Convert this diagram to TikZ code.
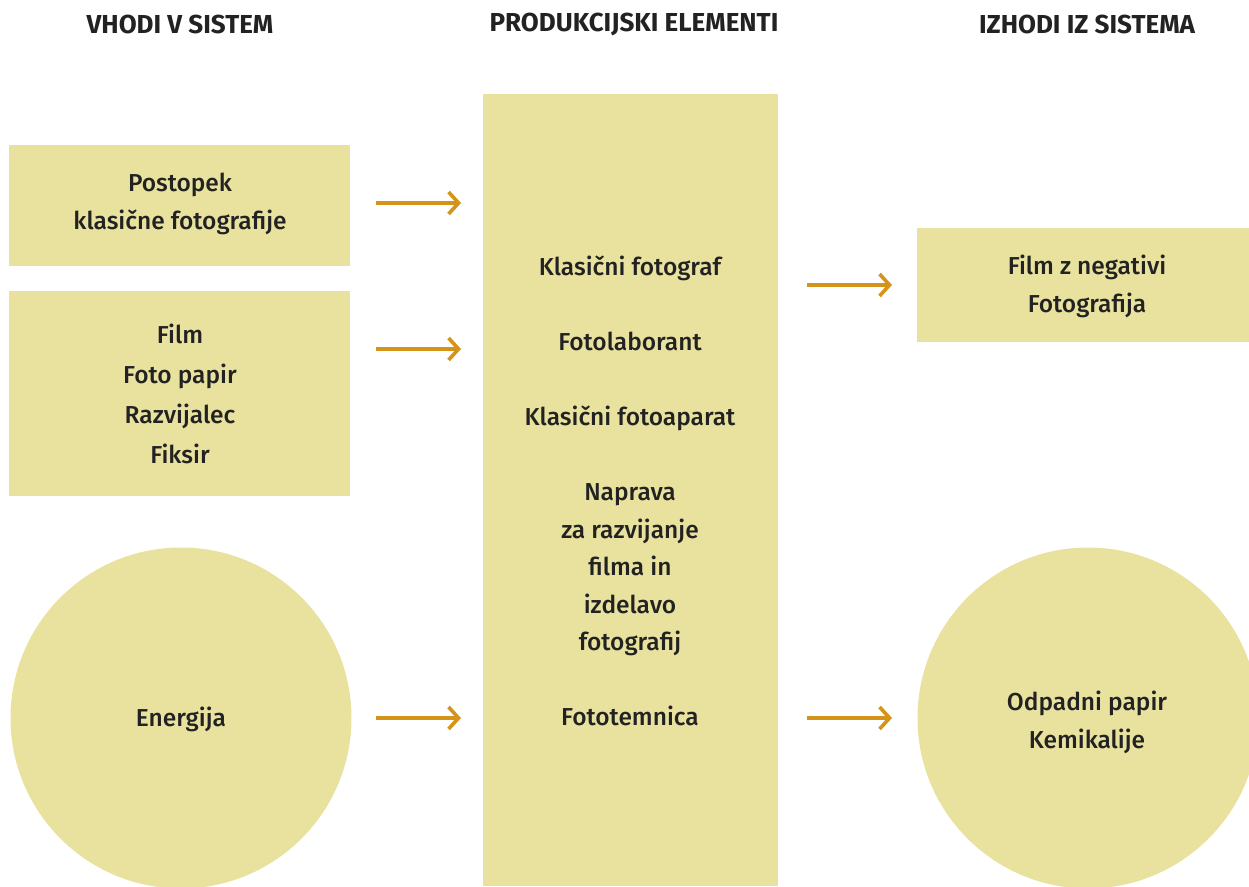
\documentclass[tikz,border=0pt]{standalone}
\usepackage{fontspec}
\setmainfont{Fira Sans}[UprightFont=* Medium, BoldFont=* Bold]
\usetikzlibrary{arrows.meta}
\definecolor{panel}{HTML}{E9E29F}
\definecolor{flow}{HTML}{D4941A}
\definecolor{ink}{HTML}{222222}
\tikzset{
  panel/.style={fill=panel, draw=none, inner sep=0pt},
  label/.style={text=ink, align=center, font=\fontsize{24.5}{38}\selectfont},
  head/.style={text=ink, font=\fontsize{26}{28}\selectfont\bfseries},
  flowarrow/.style={draw=flow, line width=3.6pt, -{Straight Barb[length=10pt,width=22pt,line width=3.6pt]}}
}
\begin{document}
\begin{tikzpicture}[x=1pt,y=-1pt]
\useasboundingbox (0,0) rectangle (1249,886);
\clip (0,0) rectangle (1249,886);

% column headings
\node[head] (h1) at (180,24) {VHODI V SISTEM};
\node[head] (h2) at (634,24) {PRODUKCIJSKI ELEMENTI};
\node[head] (h3) at (1087,24) {IZHODI IZ SISTEMA};

% inputs
\node[panel, minimum width=341pt, minimum height=121pt] (in1) at (179.5,205.5) {};
\node[label] at (180,204) {Postopek\\klasične fotografije};
\node[panel, minimum width=341pt, minimum height=205pt] (in2) at (179.5,393.5) {};
\node[label, font=\fontsize{24.5}{40}\selectfont] at (180,394) {Film\\Foto papir\\Razvijalec\\Fiksir};
\node[panel, circle, minimum size=341pt] (in3) at (181,718) {};
\node[label] at (181,719) {Energija};

% production elements
\node[panel, minimum width=295pt, minimum height=792pt] (prod) at (630.5,490) {};
\node[label, font=\fontsize{24.5}{37.5}\selectfont] at (630,491)
  {Klasični fotograf\\[37.5pt]Fotolaborant\\[37.5pt]Klasični fotoaparat\\[37.5pt]Naprava\\za razvijanje\\filma in\\izdelavo\\fotografij\\[37.5pt]Fototemnica};

% outputs
\node[panel, minimum width=332pt, minimum height=114pt] (out1) at (1083,285) {};
\node[label] at (1087,286) {Film z negativi\\Fotografija};
\node[panel, circle, minimum size=341pt] (out2) at (1088,718) {};
\node[label] at (1087,722.5) {Odpadni papir\\Kemikalije};

% flow arrows
\coordinate (a1s) at (376,203);  \coordinate (a1e) at (461,203);
\coordinate (a2s) at (376,349);  \coordinate (a2e) at (461,349);
\coordinate (a3s) at (376,718);  \coordinate (a3e) at (461,718);
\coordinate (b1s) at (807,285);  \coordinate (b1e) at (892,285);
\coordinate (b2s) at (807,718);  \coordinate (b2e) at (892,718);
\draw[flowarrow] (a1s) -- (a1e);
\draw[flowarrow] (a2s) -- (a2e);
\draw[flowarrow] (a3s) -- (a3e);
\draw[flowarrow] (b1s) -- (b1e);
\draw[flowarrow] (b2s) -- (b2e);
\end{tikzpicture}
\end{document}
